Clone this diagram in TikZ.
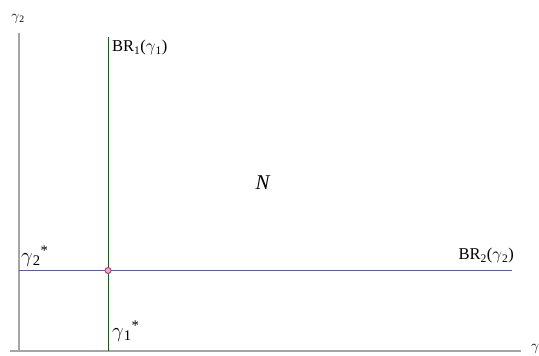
\documentclass[tikz,border=0pt]{standalone}
\usepackage{fontspec}
\setmainfont{Liberation Serif}
\begin{document}
\begin{tikzpicture}[x=1pt,y=-1pt,
  axis/.style={draw=axisgray,line width=1.3pt},
  brone/.style={draw=brgreen,line width=1pt},
  brtwo/.style={draw=brblue,line width=1.1pt},
  lbl/.style={inner sep=0pt,font=\fontsize{16.5}{18}\selectfont},
  biglbl/.style={inner sep=0pt,font=\fontsize{21}{23}\selectfont},
  smalllbl/.style={inner sep=0pt,font=\fontsize{14}{16}\selectfont}]
\definecolor{axisgray}{RGB}{165,165,165}
\definecolor{brgreen}{RGB}{30,85,30}
\definecolor{brblue}{RGB}{85,85,200}
\definecolor{ptpink}{RGB}{185,60,120}
\useasboundingbox (0,0) rectangle (539,356);
% axes
\coordinate (yt) at (19,33);
\coordinate (yb) at (19,352);
\coordinate (xl) at (10,351);
\coordinate (xr) at (521,351);
\draw[axis] (yt) -- (yb);
\draw[axis] (xl) -- (xr);
\node[smalllbl] (ylab) at (18,19) {$\gamma$\textsubscript{2}};
\node[smalllbl,anchor=west] (xlab) at (531,349) {$\gamma$};
% best responses
\coordinate (gt) at (108,37);
\coordinate (gb) at (108,351);
\coordinate (bl) at (19,270.5);
\coordinate (br) at (512,270.5);
\draw[brone] (gt) -- (gb);
\draw[brtwo] (bl) -- (br);
\node[circle,draw=ptpink,fill=ptpink!40,line width=1pt,inner sep=0pt,minimum size=6pt] (eq) at (108,270.5) {};
\node[lbl,anchor=west] (br1) at (112,48) {BR\textsubscript{1}($\gamma$\textsubscript{1})};
\node[lbl,anchor=east] (br2) at (514,256) {BR\textsubscript{2}($\gamma$\textsubscript{2})};
\node[biglbl] (N) at (263,183) {\textit{N}};
\node[biglbl,anchor=west] (g2s) at (21,256) {$\gamma$\textsubscript{2}\textsuperscript{*}};
\node[biglbl,anchor=west] (g1s) at (112,331) {$\gamma$\textsubscript{1}\textsuperscript{*}};
\end{tikzpicture}
\end{document}
